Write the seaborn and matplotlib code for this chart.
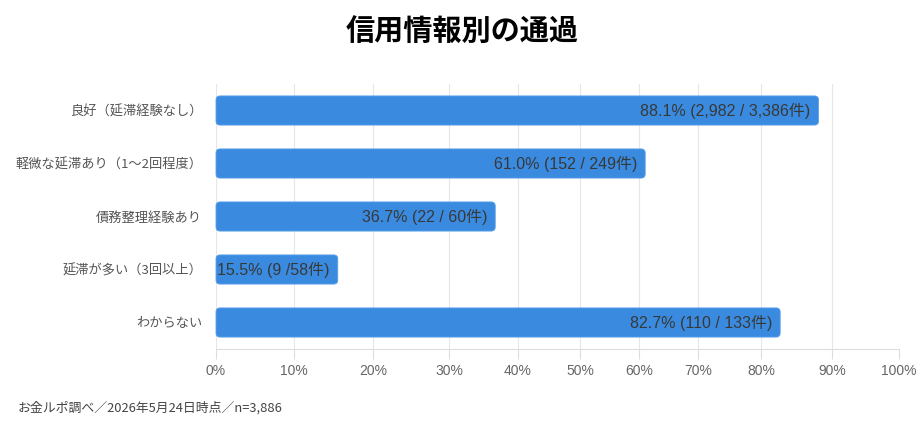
import matplotlib
matplotlib.use("Agg")
import matplotlib.pyplot as plt
from matplotlib.patches import FancyBboxPatch
import seaborn as sns
import pandas as pd
import numpy as np

categories = ["良好（延滞経験なし）", "軽微な延滞あり（1〜2回程度）", "債務整理経験あり",
              "延滞が多い（3回以上）", "わからない"]
rates = [88.1, 61.0, 36.7, 15.5, 82.7]
bar_labels = ["88.1% (2,982 / 3,386件)", "61.0% (152 / 249件)", "36.7% (22 / 60件)",
              "15.5% (9 /58件)", "82.7% (110 / 133件)"]
x_ticks = [0, 10, 20, 30, 40, 50, 60, 70, 80, 90, 100]
x_tick_labels = [f"{t}%" for t in x_ticks]
title = "信用情報別の通過"
footnote = "お金ルポ調べ／2026年5月24日時点／n=3,886"

# the reference axis is not evenly spaced: gridline pixel positions
grid_px = [216, 294.3, 373.3, 449, 518, 580, 639.3, 698.3, 761, 832, 899]

sns.set_theme(style="white")
plt.rcParams['font.family'] = ['Liberation Sans', 'Noto Sans CJK JP', 'DejaVu Sans']

df = pd.DataFrame({"category": categories, "rate": rates})

W, H = 924, 428
fig = plt.figure(figsize=(W/100, H/100), dpi=100)
ax = fig.add_axes([216/W, 1-349/H, (899-216)/W, (349-84)/H])

tick_arr = np.array(x_ticks, dtype=float)
px_arr = np.array(grid_px, dtype=float)

def fwd(x):
    return np.interp(x, tick_arr, px_arr)

def inv(p):
    return np.interp(p, px_arr, tick_arr)

color = "#3A8BE0"
sns.barplot(data=df, y="category", x="rate", ax=ax, color=color, width=0.55,
            orient="h", saturation=1, zorder=3)

ax.set_xscale("function", functions=(fwd, inv))
ax.set_xlim(0, 100)
ax.set_ylim(4.5, -0.5)

# rounded bar ends, drawn in display space
r_px = 4
patches = list(ax.patches)
for p in patches:
    x0, y0 = p.get_x(), p.get_y()
    w, h = p.get_width(), p.get_height()
    p0 = ax.transData.transform((x0, y0))
    p1 = ax.transData.transform((x0 + w, y0 + h))
    xmin, xmax = min(p0[0], p1[0]), max(p0[0], p1[0])
    ymin, ymax = min(p0[1], p1[1]), max(p0[1], p1[1])
    fb = FancyBboxPatch((xmin, ymin), xmax - xmin, ymax - ymin,
                        boxstyle=f"round,pad=0,rounding_size={r_px}",
                        facecolor=color, edgecolor="#5aa0ea", linewidth=0.6,
                        transform=None, zorder=3)
    p.remove()
    fb.set_clip_on(False)
    ax.add_artist(fb)

for i, (v, lab) in enumerate(zip(rates, bar_labels)):
    ax.annotate(lab, xy=(v, i), xytext=(-8, 0), textcoords="offset pixels",
                ha="right", va="center", fontsize=11.5, color="#383838", zorder=4)

ax.set_xticks(x_ticks)
ax.set_xticklabels(x_tick_labels, fontsize=10, color="#666666")
ax.xaxis.set_minor_locator(matplotlib.ticker.NullLocator())
ax.tick_params(axis="x", length=7, color="#dddddd", width=0.8, pad=4, bottom=True)
ax.tick_params(axis="y", length=0, pad=10, labelsize=9.5, labelcolor="#555555")
for t in ax.get_yticklabels():
    t.set_fontfamily(['Noto Sans CJK JP', 'DejaVu Sans'])
ax.set_xlabel("")
ax.set_ylabel("")
ax.grid(axis="x", color="#e6e6e6", linewidth=0.8, zorder=0)
ax.set_axisbelow(True)
for s in ["top", "right", "left"]:
    ax.spines[s].set_visible(False)
ax.spines["bottom"].set_color("#dddddd")
ax.spines["bottom"].set_linewidth(0.8)

fig.text(0.5, 1-32/H, title, ha="center", va="center", fontsize=21,
         fontweight="bold", color="#000000",
         family=['Noto Sans CJK JP', 'DejaVu Sans'])
fig.text(18/W, 1-408/H, footnote, ha="left", va="center", fontsize=9.3,
         color="#444444", family=['Noto Sans CJK JP', 'DejaVu Sans'])

fig.savefig("out.png", dpi=100)
